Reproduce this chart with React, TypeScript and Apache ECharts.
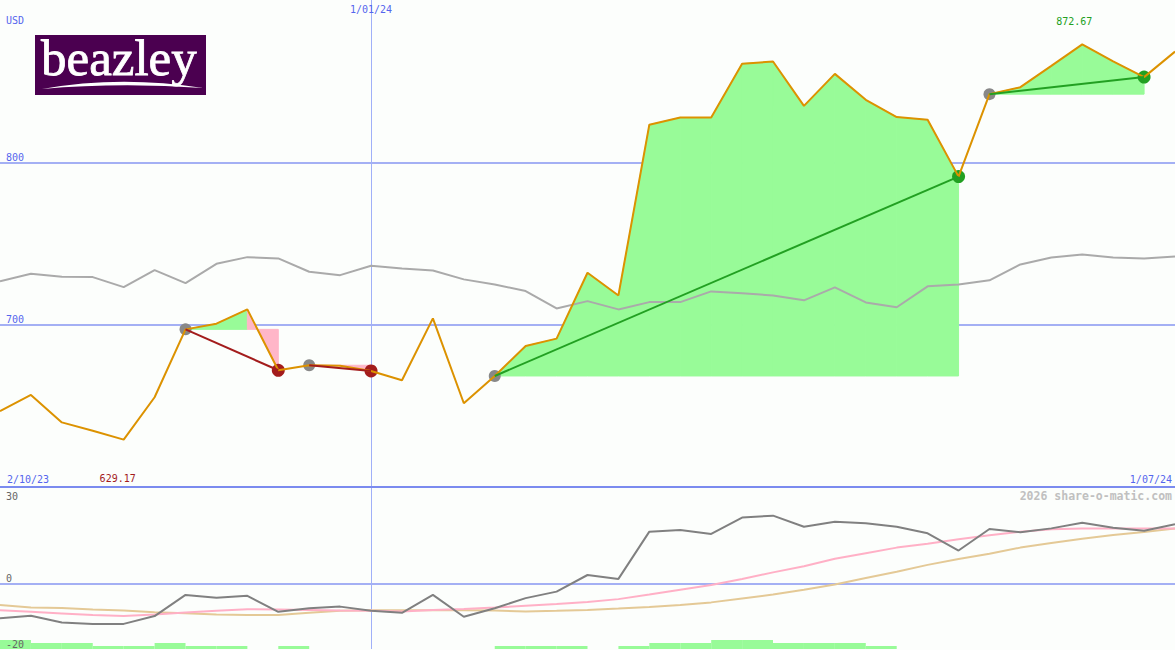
import React, { useEffect, useRef } from 'react';
import * as echarts from 'echarts';

// ---------- data ----------
const dates = ['9/10/23','16/10/23','23/10/23','30/10/23','6/11/23','13/11/23','20/11/23','27/11/23','4/12/23','11/12/23','18/12/23','25/12/23','1/01/24','8/01/24','15/01/24','22/01/24','29/01/24','5/02/24','12/02/24','19/02/24','26/02/24','4/03/24','11/03/24','18/03/24','25/03/24','1/04/24','8/04/24','15/04/24','22/04/24','29/04/24','6/05/24','13/05/24','20/05/24','27/05/24','3/06/24','10/06/24','17/06/24','24/06/24','1/07/24'];

const price = [646.7, 656.7, 639.8, 634.6, 629.17, 655.3, 697.1, 700.6, 709.4, 671.9, 675.0, 674.7, 671.5, 665.8, 703.9, 651.6, 668.4, 686.9, 691.4, 732.0, 718.0, 823.2, 827.6, 827.6, 860.8, 862.1, 834.8, 854.5, 838.5, 827.9, 826.2, 791.2, 842.0, 846.3, 859.4, 872.67, 862.2, 852.5, 868.2];

const relative = [726.8, 731.4, 729.5, 729.3, 723.1, 733.6, 725.6, 737.5, 741.6, 740.8, 732.6, 730.5, 736.3, 734.6, 733.4, 727.9, 724.8, 720.7, 710.0, 714.5, 709.4, 713.9, 713.9, 720.5, 719.3, 718.0, 715.0, 723.0, 713.7, 710.7, 723.6, 724.8, 727.3, 737.1, 741.4, 743.2, 741.4, 740.8, 742.0];

const momentum = [-10.6, -9.8, -11.9, -12.3, -12.3, -9.9, -3.4, -4.3, -3.7, -8.6, -7.5, -7.0, -8.3, -8.9, -3.4, -10.1, -7.5, -4.4, -2.4, 2.7, 1.5, 16.0, 16.5, 15.3, 20.3, 20.9, 17.5, 19.0, 18.6, 17.5, 15.5, 10.2, 16.8, 15.8, 17.0, 18.7, 17.2, 16.3, 18.3];

const avgFast = [-8.1, -8.6, -9.1, -9.6, -9.9, -9.4, -8.8, -8.3, -7.8, -7.9, -8.0, -8.2, -8.3, -8.5, -8.0, -7.7, -7.3, -6.7, -6.2, -5.6, -4.7, -3.3, -1.8, -0.4, 1.5, 3.5, 5.4, 7.7, 9.4, 11.1, 12.3, 13.7, 14.9, 16.0, 16.7, 17.0, 17.0, 17.0, 17.0];

const avgSlow = [-6.5, -7.3, -7.4, -7.9, -8.2, -8.7, -9.0, -9.4, -9.6, -9.6, -8.9, -8.3, -8.1, -8.1, -8.1, -8.1, -8.2, -8.5, -8.3, -8.0, -7.6, -7.1, -6.5, -5.7, -4.5, -3.3, -1.8, -0.2, 1.8, 3.7, 5.8, 7.6, 9.2, 11.1, 12.5, 13.8, 15.0, 15.9, 17.0];

const signalBars = [3, 2, 2, 1, 1, 2, 1, 1, 0, 1, 0, 0, 0, 0, 0, 0, 1, 1, 1, 0, 1, 2, 2, 3, 3, 2, 2, 2, 1, 0, 0, 0, 0, 0, 0, 0, 0, 0];

// trades: [entry index, exit index]
const trades = [[6, 9], [10, 12], [16, 31], [32, 37]];

const rangeLabels = ['2/10/23', '1/07/24'];
const yearMarkerIndex = 12;

// ---------- styles ----------
const MONO = '"DejaVu Sans Mono", monospace';
const BLUE_TXT = '#5566ee';
const GRID_LINE = '#a4b0f4';
const V_LINE = '#a0b0f8';
const ORANGE = '#dc9200';
const GREEN_FILL = '#98fb98';
const PINK_FILL = '#ffb6c8';
const WIN = '#22a022';
const LOSS = '#a31c1c';

function buildOption() {
  const segments: number[][] = [];
  trades.forEach(([e, x]) => {
    for (let i = e; i < x; i++) segments.push([i, price[i], i + 1, price[i + 1], price[e]]);
  });
  const entries = trades.map(([e]) => [e, price[e]]);
  const wins = trades.filter(([e, x]) => price[x] > price[e]).map(([, x]) => [x, price[x]]);
  const losses = trades.filter(([e, x]) => price[x] <= price[e]).map(([, x]) => [x, price[x]]);

  const tradeLines = trades.map(([e, x]) => ({
    type: 'line',
    xAxisIndex: 0,
    yAxisIndex: 0,
    data: [[e, price[e]], [x, price[x]]],
    symbol: 'none',
    silent: true,
    z: 6,
    lineStyle: { color: price[x] > price[e] ? WIN : LOSS, width: 2 },
  }));

  return {
    animation: false,
    backgroundColor: '#fcfefc',
    textStyle: { fontFamily: MONO },
    grid: [
      { left: 0, right: 0, top: 0, height: 487, containLabel: false, outerBoundsMode: 'none' },
      { left: 0, right: 0, top: 486, height: 163, containLabel: false, outerBoundsMode: 'none' },
    ],
    xAxis: [
      {
        gridIndex: 0, type: 'category', data: dates, boundaryGap: false,
        axisLine: { show: true, lineStyle: { color: '#7b8bef', width: 2 } },
        axisTick: { show: false }, axisLabel: { show: false }, splitLine: { show: false },
      },
      {
        gridIndex: 0, type: 'category', data: dates, boundaryGap: false, position: 'top',
        axisLine: { show: false }, axisTick: { show: false },
        axisLabel: {
          show: true, inside: true, margin: 4, verticalAlign: 'top',
          interval: (i: number) => i === yearMarkerIndex,
          color: BLUE_TXT, fontFamily: MONO, fontSize: 10,
        },
        splitLine: { show: true, interval: (i: number) => i === yearMarkerIndex, lineStyle: { color: V_LINE, width: 1 } },
      },
      {
        gridIndex: 1, type: 'category', data: dates, boundaryGap: false,
        axisLine: { show: false }, axisTick: { show: false }, axisLabel: { show: false },
        splitLine: { show: true, interval: (i: number) => i === yearMarkerIndex, lineStyle: { color: V_LINE, width: 1 } },
      },
      {
        gridIndex: 1, type: 'category', data: dates.slice(0, signalBars.length), boundaryGap: true, show: false,
      },
    ],
    yAxis: [
      {
        gridIndex: 0, type: 'value', position: 'left', min: 600, max: 900, interval: 100,
        axisLine: { show: false }, axisTick: { show: false },
        splitLine: { show: true, showMinLine: false, showMaxLine: false, lineStyle: { color: GRID_LINE, width: 2 } },
        axisLabel: {
          show: true, inside: true, margin: 6, verticalAlign: 'bottom', color: BLUE_TXT, fontFamily: MONO, fontSize: 10,
          formatter: (v: number) => (v === 700 || v === 800 ? String(v) : ''),
        },
      },
      {
        gridIndex: 1, type: 'value', position: 'left', offset: 0, min: -20, max: 30, interval: 10, z: 10,
        axisLine: { show: false }, axisTick: { show: false }, splitLine: { show: false },
        axisLabel: {
          show: true, inside: true, margin: 6, verticalAlign: 'bottom', color: '#666666', fontFamily: MONO, fontSize: 10,
          formatter: (v: number) => (v === 0 || v === -20 ? String(v) : ''),
        },
      },
      {
        gridIndex: 1, type: 'value', position: 'left', offset: 0, min: -20, max: 30, interval: 10, z: 10,
        axisLine: { show: false }, axisTick: { show: false }, splitLine: { show: false },
        axisLabel: {
          show: true, inside: true, margin: 6, verticalAlign: 'top', padding: [5, 0, 0, 0], color: '#666666', fontFamily: MONO, fontSize: 10,
          formatter: (v: number) => (v === 30 ? '30' : ''),
        },
      },
      { gridIndex: 1, type: 'value', position: 'left', min: 0, max: 54.3, show: false },
      {
        gridIndex: 1, type: 'value', position: 'left', inverse: true, min: -30, max: 20, interval: 30,
        axisLine: { show: false }, axisTick: { show: false }, axisLabel: { show: false },
        splitLine: { show: true, showMinLine: false, showMaxLine: false, lineStyle: { color: GRID_LINE, width: 2 } },
      },
    ],
    graphic: [
      { type: 'rect', shape: { x: 35, y: 35, width: 171, height: 60 }, style: { fill: '#4b0050' }, z: 20 },
      {
        type: 'text', x: 41, y: 58, z: 21,
        style: { text: 'beazley', fill: '#ffffff', stroke: '#ffffff', lineWidth: 0.8, fontFamily: '"Liberation Serif", serif', fontSize: 51, verticalAlign: 'middle' },
      },
      { type: 'swoosh', z: 21, style: { fill: '#ffffff' } },
      { type: 'text', x: 6, y: 15, z: 20, style: { text: 'USD', fill: BLUE_TXT, fontFamily: MONO, fontSize: 10, verticalAlign: 'top' } },
      { type: 'text', x: 7, y: 474, z: 20, style: { text: rangeLabels[0], fill: BLUE_TXT, fontFamily: MONO, fontSize: 10, verticalAlign: 'top' } },
      { type: 'text', x: 1172, y: 474, z: 20, style: { text: rangeLabels[1], fill: BLUE_TXT, fontFamily: MONO, fontSize: 10, align: 'right', verticalAlign: 'top' } },
      {
        type: 'text', x: 1172, y: 490, z: 20,
        style: { text: '2026 share-o-matic.com', fill: '#c0c0c0', fontFamily: MONO, fontSize: 11.5, fontWeight: 'bold', align: 'right', verticalAlign: 'top' },
      },
    ],
    series: [
      {
        type: 'custom', xAxisIndex: 0, yAxisIndex: 0, silent: true, z: 1,
        data: segments,
        encode: { x: [0, 2], y: [1, 3, 4] },
        renderItem: (_p: any, api: any) => {
          const i0 = api.value(0), v0 = api.value(1), i1 = api.value(2), v1 = api.value(3), lv = api.value(4);
          const pts = [api.coord([i0, v0]), api.coord([i1, v1]), api.coord([i1, lv]), api.coord([i0, lv])];
          const c = v1 >= lv ? GREEN_FILL : PINK_FILL;
          return { type: 'polygon', shape: { points: pts }, style: { fill: c, stroke: c, lineWidth: 1 } };
        },
      },
      {
        type: 'line', xAxisIndex: 0, yAxisIndex: 0, data: relative, symbol: 'none', silent: true, z: 2,
        lineStyle: { color: '#aaaaaa', width: 2 },
      },
      {
        type: 'scatter', xAxisIndex: 0, yAxisIndex: 0, data: entries, symbolSize: 12, silent: true, z: 3,
        itemStyle: { color: '#888888', opacity: 1 },
      },
      {
        type: 'scatter', xAxisIndex: 0, yAxisIndex: 0, data: wins, symbolSize: 13, silent: true, z: 3,
        itemStyle: { color: WIN, opacity: 1 },
      },
      {
        type: 'scatter', xAxisIndex: 0, yAxisIndex: 0, data: losses, symbolSize: 13, silent: true, z: 3,
        itemStyle: { color: LOSS, opacity: 1 },
      },
      {
        type: 'line', xAxisIndex: 0, yAxisIndex: 0, data: price, symbol: 'none', silent: true, z: 4,
        lineStyle: { color: ORANGE, width: 2 },
        markPoint: {
          symbol: 'circle', symbolSize: 0, silent: true,
          label: { show: true, fontFamily: MONO, fontSize: 10, formatter: (p: any) => Number(p.value).toFixed(2) },
          data: [
            { type: 'max', label: { offset: [-8, -23], color: WIN } },
            { type: 'min', label: { offset: [-6, 39], color: LOSS } },
          ],
        },
      },
      ...tradeLines,
      {
        type: 'bar', xAxisIndex: 3, yAxisIndex: 3, data: signalBars, barWidth: '100%', barGap: '0%', silent: true, z: 1,
        itemStyle: { color: GREEN_FILL },
      },
      {
        type: 'line', xAxisIndex: 2, yAxisIndex: 1, data: avgSlow, symbol: 'none', silent: true, z: 2,
        lineStyle: { color: '#e4c996', width: 2 },
      },
      {
        type: 'line', xAxisIndex: 2, yAxisIndex: 1, data: avgFast, symbol: 'none', silent: true, z: 3,
        lineStyle: { color: '#ffb0c6', width: 2 },
      },
      {
        type: 'line', xAxisIndex: 2, yAxisIndex: 1, data: momentum, symbol: 'none', silent: true, z: 4,
        lineStyle: { color: '#808080', width: 2 },
      },
    ],
  };
}

export default function App() {
  const ref = useRef<HTMLDivElement>(null);
  useEffect(() => {
    if (!ref.current) return;
    try {
      echarts.graphic.registerShape('swoosh', echarts.graphic.extendPath('M42,89 Q120,75 203,88 Q120,82 42,89 Z', {}));
    } catch (e) {
      // already registered
    }
    const chart = echarts.init(ref.current, null, { renderer: 'svg' });
    chart.setOption(buildOption() as any);
    return () => chart.dispose();
  }, []);
  return <div ref={ref} style={{ position: 'absolute', left: 0, top: 0, width: 1175, height: 650 }} />;
}
